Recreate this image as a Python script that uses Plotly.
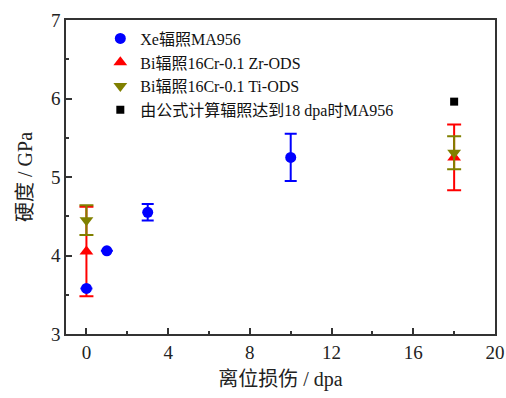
import plotly.graph_objects as go

# Data
xe_x = [0, 1, 3, 10]
xe_y = [3.58, 4.06, 4.55, 5.25]
xe_err = [0, 0, 0.105, 0.30]

zr_x = [0, 18]
zr_y = [4.05, 5.25]
zr_err = [0.57, 0.42]

ti_x = [0, 18]
ti_y = [4.45, 5.31]
ti_err = [0.19, 0.21]

calc_x = [18]
calc_y = [5.96]

names = ["Xe辐照MA956", "Bi辐照16Cr-0.1 Zr-ODS", "Bi辐照16Cr-0.1 Ti-ODS", "由公式计算辐照达到18 dpa时MA956"]

FONT = "'Liberation Serif', 'Noto Sans CJK SC', serif"

fig = go.Figure()
fig.add_trace(go.Scatter(
    x=zr_x, y=zr_y, mode="markers", name=names[1], legendrank=2,
    marker=dict(symbol="triangle-up", size=12, color="#ff0000"),
    error_y=dict(type="data", array=zr_err, visible=True, color="#ff0000", thickness=2, width=7),
))
fig.add_trace(go.Scatter(
    x=ti_x, y=ti_y, mode="markers", name=names[2], legendrank=3,
    marker=dict(symbol="triangle-down", size=12, color="#808000"),
    error_y=dict(type="data", array=ti_err, visible=True, color="#808000", thickness=2, width=7),
))
fig.add_trace(go.Scatter(
    x=xe_x, y=xe_y, mode="markers", name=names[0], legendrank=1,
    marker=dict(symbol="circle", size=11, color="#0000ff"),
    error_y=dict(type="data", array=xe_err, visible=True, color="#0000ff", thickness=2, width=6),
))
fig.add_trace(go.Scatter(
    x=calc_x, y=calc_y, mode="markers", name=names[3], legendrank=4,
    marker=dict(symbol="square", size=8, color="#000000"),
))

fig.update_layout(
    width=506, height=398,
    margin=dict(l=66, r=11, t=20, b=64),
    paper_bgcolor="white", plot_bgcolor="white",
    font=dict(family=FONT, size=19, color="#222222"),
    showlegend=True,
    legend=dict(x=0.08, y=0.995, xanchor="left", yanchor="top",
                bgcolor="rgba(0,0,0,0)", font=dict(size=16, family=FONT, color="#111111"),
                itemwidth=30, tracegroupgap=0),
    xaxis=dict(range=[-1, 20], tickvals=[0, 4, 8, 12, 16, 20], ticks="inside", ticklen=6,
               tickwidth=1.5, tickcolor="#333", showline=True, linecolor="#333", linewidth=1.5,
               mirror=True, showgrid=False, zeroline=False, automargin=False,
               minor=dict(tickvals=[2, 6, 10, 14, 18], ticks="inside", ticklen=3, tickcolor="#333"),
               title=dict(text="离位损伤 / dpa", font=dict(size=20), standoff=10)),
    yaxis=dict(range=[3, 7], tickvals=[3, 4, 5, 6, 7], ticks="inside", ticklen=6,
               tickwidth=1.5, tickcolor="#333", showline=True, linecolor="#333", linewidth=1.5,
               mirror=True, showgrid=False, zeroline=False, automargin=False,
               minor=dict(tickvals=[3.5, 4.5, 5.5, 6.5], ticks="inside", ticklen=3, tickcolor="#333"),
               title=dict(text="硬度 / GPa", font=dict(size=20), standoff=13)),
)

fig.write_html("out.html", config={"displayModeBar": False},
               post_script="document.body.style.margin='0';document.body.style.padding='0';")
